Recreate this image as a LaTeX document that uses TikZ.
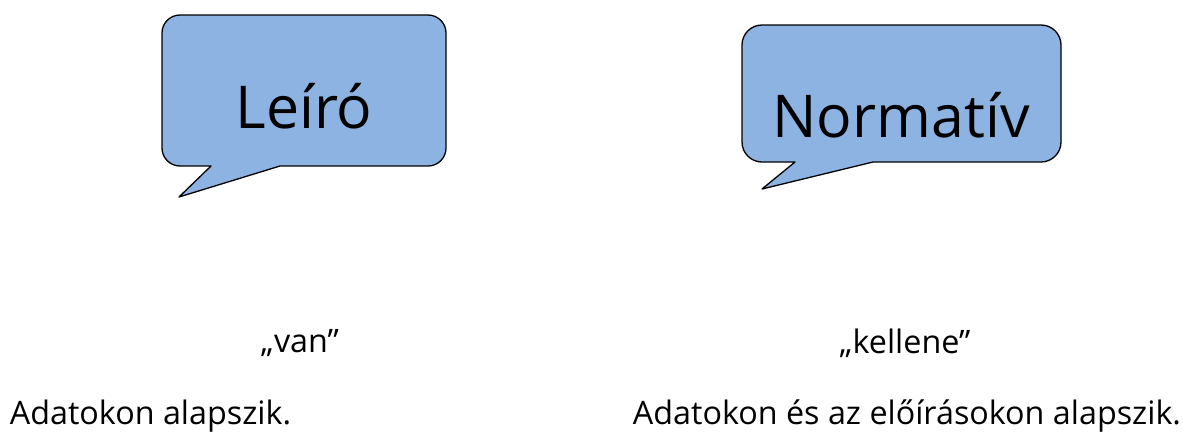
\documentclass[tikz,border=0pt]{standalone}
\usepackage{fontspec}
\setmainfont{Open Sans}
\definecolor{bubble}{RGB}{141,179,226}
\tikzset{
  bubblestyle/.style={draw=black, fill=bubble, line width=1.3pt, line join=round},
  bigtext/.style={anchor=base, inner sep=0pt, font=\fontsize{59}{70}\selectfont},
  smalltext/.style={anchor=base, inner sep=0pt, font=\fontsize{32.3}{38}\selectfont},
}
\begin{document}
\begin{tikzpicture}[x=1pt, y=-1pt]
\useasboundingbox (0,0) rectangle (1183,432);
% left callout
\draw[bubblestyle] (179,197) -- (280,166) [rounded corners=18] -- (446,166) -- (446,15) -- (162,15) -- (162,166) [sharp corners] -- (211,166) -- cycle;
\node[bigtext] (leiro) at (304,128) {Leíró};
% right callout
\draw[bubblestyle] (762,189) -- (873,162) [rounded corners=20] -- (1061,162) -- (1061,25) -- (742,25) -- (742,162) [sharp corners] -- (795,162) -- cycle;
\node[bigtext] (normativ) at (901,137) {Normatív};
% texts
\node[smalltext] (van) at (300,352) {„van”};
\node[smalltext] (kellene) at (905,353) {„kellene”};
\node[smalltext] (adat1) at (150.5,424) {Adatokon alapszik.};
\node[smalltext] (adat2) at (907,424) {Adatokon és az előírásokon alapszik.};
\end{tikzpicture}
\end{document}
